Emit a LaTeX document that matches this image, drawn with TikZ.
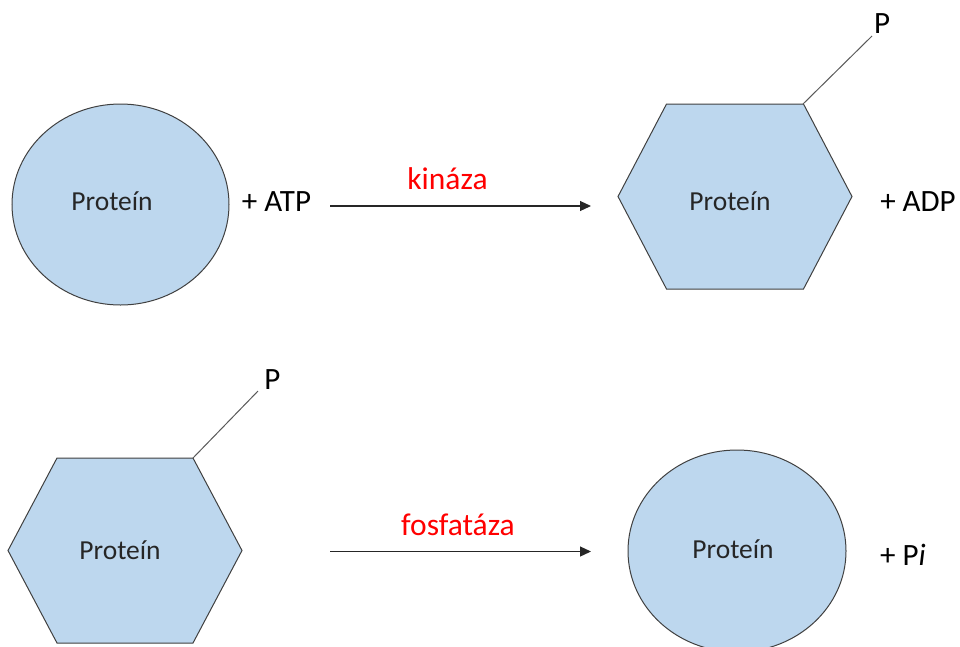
\documentclass[tikz,border=0pt]{standalone}
\usepackage{fontspec}
\setmainfont{Carlito}
\usetikzlibrary{arrows.meta}
\definecolor{protfill}{HTML}{BDD7EE}
\definecolor{protline}{HTML}{404040}
\definecolor{linkgray}{HTML}{595959}
\tikzset{
  prot/.style={draw=protline, fill=protfill, line width=1pt},
  prottext/.style={anchor=base, inner sep=0pt, font=\fontsize{27.5}{32}\selectfont, text=black!85},
  sidetext/.style={anchor=base, inner sep=0pt, font=\fontsize{31}{36}\selectfont, text=black},
  enzyme/.style={anchor=base, inner sep=0pt, font=\fontsize{31.5}{38}\selectfont, text=red},
  reaction/.style={draw=black!85, line width=1.2pt, -{Triangle[length=11pt,width=10pt]}},
  plink/.style={draw=linkgray, line width=1pt},
}
\begin{document}
\begin{tikzpicture}[x=1pt,y=-1pt]
\useasboundingbox (0,0) rectangle (960,646);
% top row
\draw[prot] (120.5,204.5) ellipse [x radius=108.5, y radius=100.5];
\node[prottext] (p1) at (112,210) {Proteín};
\node[sidetext] (atp) at (276.5,211.5) {+ ATP};
\coordinate (a1s) at (330,206);
\coordinate (a1e) at (591,206);
\draw[reaction] (a1s) -- (a1e);
\node[enzyme] (kin) at (447.5,189.5) {kináza};
\coordinate (h1) at (734.5,196.5);
\draw[prot] (h1) ++(-116.5,0) -- ++(48.5,-92.5) -- ++(137,0) -- ++(48.5,92.5) -- ++(-48.5,92.5) -- ++(-137,0) -- cycle;
\coordinate (h1v) at (803,104);
\node[prottext] (p2) at (730,210) {Proteín};
\node[sidetext] (adp) at (918,211.5) {+ ADP};
\node[sidetext] (P1) at (882,33) {P};
\draw[plink] (h1v) -- (872,36);
% bottom row
\coordinate (h2) at (125,550.5);
\draw[prot] (h2) ++(-117,0) -- ++(49,-92.5) -- ++(136,0) -- ++(49,92.5) -- ++(-49,92.5) -- ++(-136,0) -- cycle;
\coordinate (h2v) at (193,458);
\node[prottext] (p3) at (120,559.5) {Proteín};
\node[sidetext] (P2) at (272.5,389) {P};
\draw[plink] (h2v) -- (258,391);
\coordinate (a2s) at (330,551.5);
\coordinate (a2e) at (591,551.5);
\draw[reaction] (a2s) -- (a2e);
\node[enzyme] (fos) at (458,535) {fosfatáza};
\draw[prot] (737,551) ellipse [x radius=109, y radius=101];
\node[prottext] (p4) at (733,558.5) {Proteín};
\node[sidetext] (pi) at (903,565) {+ P\textit{i}};
\end{tikzpicture}
\end{document}
